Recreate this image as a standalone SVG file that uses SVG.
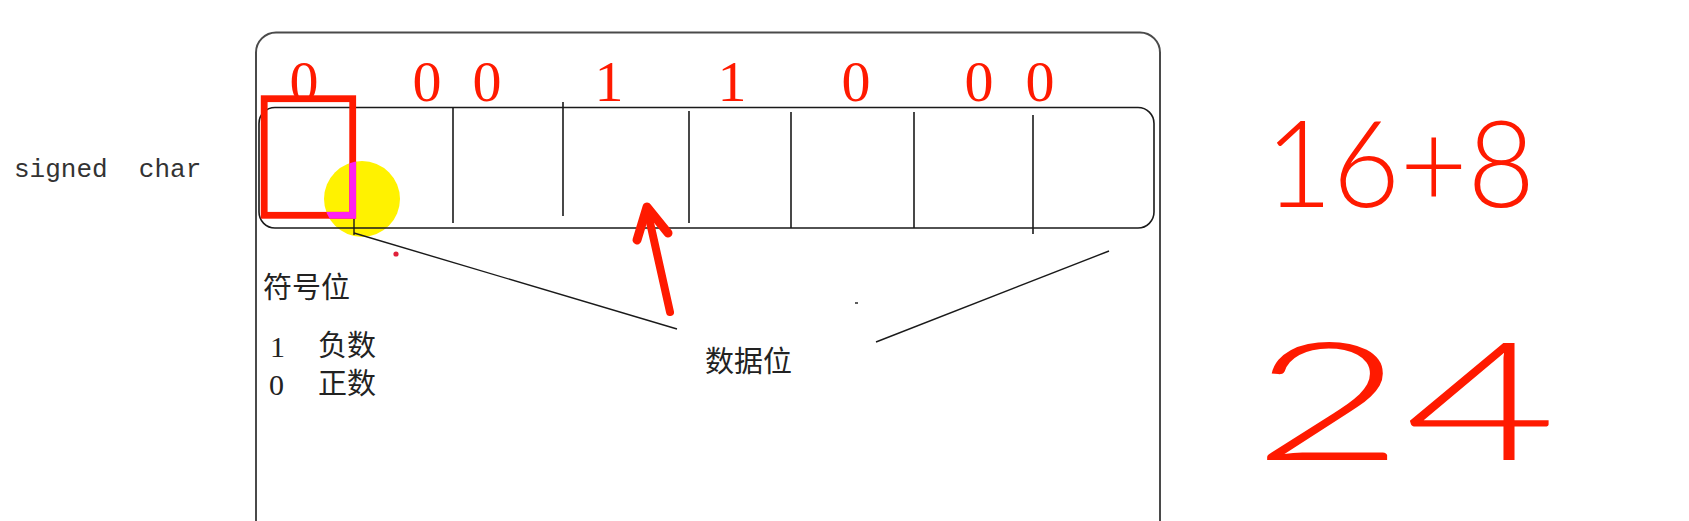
<svg xmlns="http://www.w3.org/2000/svg" width="1689" height="521" viewBox="0 0 1689 521">
  <style>
    .frame { fill: none; stroke: #4a4a4a; stroke-width: 2; }
    .cell { fill: none; stroke: #1a1a1a; stroke-width: 1.6; }
    .div { stroke: #1a1a1a; stroke-width: 1.6; }
    .bit { font-family: "Liberation Serif", "Times New Roman", serif; font-size: 58px; fill: #ff1a00; text-anchor: middle; }
    .cjk { font-family: "Noto Sans CJK SC", "Noto Sans", sans-serif; font-size: 29px; fill: #222; }
    .num { font-family: "Liberation Serif", serif; font-size: 30px; fill: #222; }
    .mono { font-family: "Liberation Mono", "DejaVu Sans Mono", monospace; font-size: 26px; fill: #333; }
    .thin { stroke: #1a1a1a; stroke-width: 1.4; fill: none; }
    .hand { font-family: "Lato", "Liberation Sans", sans-serif; font-weight: 300; fill: #ff1a00; }
    .redpen { stroke: #ff1a00; fill: none; stroke-linecap: round; stroke-linejoin: round; }
  </style>
  <defs>
    <clipPath id="circClip">
      <circle cx="362" cy="199" r="38"/>
    </clipPath>
  </defs>
  <rect width="1689" height="521" fill="#ffffff"/>

  <g id="outer-frame">
    <rect class="frame" x="256" y="32.5" width="904" height="560" rx="20" ry="20"/>
  </g>

  <g id="signed-char-label">
    <text class="mono" x="14" y="177" xml:space="preserve">signed  char</text>
  </g>

  <g id="sign-bit-highlight-back">
    <circle cx="362" cy="199" r="38" fill="#fff200"/>
  </g>

  <g id="bit-row">
    <rect class="cell" x="259" y="107.5" width="895" height="120.5" rx="16" ry="16"/>
    <line class="div" x1="453" y1="107" x2="453" y2="223"/>
    <line class="div" x1="563" y1="102" x2="563" y2="216"/>
    <line class="div" x1="689" y1="111" x2="689" y2="223"/>
    <line class="div" x1="791" y1="112" x2="791" y2="228"/>
    <line class="div" x1="914" y1="112" x2="914" y2="228"/>
    <line class="div" x1="1033" y1="115" x2="1033" y2="234"/>
  </g>

  <g id="bit-values">
    <text class="bit" x="304" y="101">0</text>
    <text class="bit" x="427" y="101">0</text>
    <text class="bit" x="487" y="101">0</text>
    <text class="bit" x="609" y="101">1</text>
    <text class="bit" x="732" y="101">1</text>
    <text class="bit" x="856" y="101">0</text>
    <text class="bit" x="979" y="101">0</text>
    <text class="bit" x="1040" y="101">0</text>
  </g>

  <g id="sign-bit-highlight">
    <rect x="264.2" y="98.7" width="88.5" height="116.6" fill="none" stroke="#ff1a00" stroke-width="6.8"/>
    <rect x="264.2" y="98.7" width="88.5" height="116.6" fill="none" stroke="#ff22f0" stroke-width="6.8" clip-path="url(#circClip)"/>
  </g>

  <g id="sign-bit-label">
    <text class="cjk" x="263" y="298">符号位</text>
    <text class="num" x="270" y="357">1</text>
    <text class="cjk" x="318" y="356">负数</text>
    <text class="num" x="269" y="395">0</text>
    <text class="cjk" x="318" y="394">正数</text>
  </g>

  <g id="data-bit-label">
    <text class="cjk" x="705" y="372">数据位</text>
  </g>

  <g id="connectors">
    <line class="thin" x1="354" y1="219" x2="354" y2="235"/>
    <line class="thin" x1="354" y1="233" x2="677" y2="329"/>
    <line class="thin" x1="876" y1="342" x2="1109" y2="251"/>
    <line class="thin" x1="855" y1="303" x2="858" y2="303"/>
    <circle cx="396" cy="254" r="2.6" fill="#e0203a"/>
    <path class="redpen" d="M670 312 L647 209" stroke-width="8"/>
    <path class="redpen" d="M637 240 L647 207 L668 233" stroke-width="9"/>
  </g>

  <g id="handwriting">
    <text class="hand" x="1265" y="207" font-size="120" textLength="270" lengthAdjust="spacingAndGlyphs">16+8</text>
    <text class="hand" x="1252" y="460" font-size="165" textLength="305" lengthAdjust="spacingAndGlyphs">24</text>
  </g>
</svg>
